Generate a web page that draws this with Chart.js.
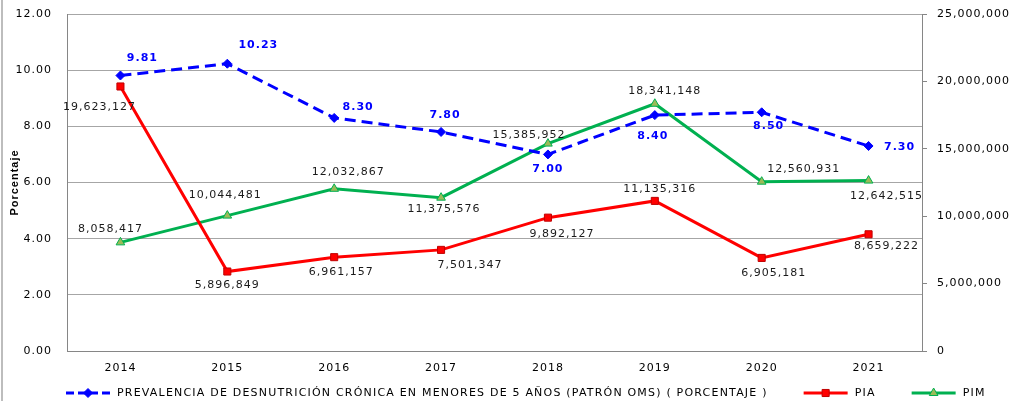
<!DOCTYPE html>
<html>
<head>
<meta charset="utf-8">
<script src="https://cdn.jsdelivr.net/npm/chart.js@4.4.0/dist/chart.umd.min.js"></script>
<style>
  html, body { margin: 0; padding: 0; background: #fff; }
  #wrap { width: 1010px; height: 401px; position: relative; }
</style>
</head>
<body>
<div id="wrap"><canvas id="myChart"></canvas></div>
<script>
const years = ['2014', '2015', '2016', '2017', '2018', '2019', '2020', '2021'];
const prevalencia = [9.81, 10.23, 8.30, 7.80, 7.00, 8.40, 8.50, 7.30];
const pia = [19623127, 5896849, 6961157, 7501347, 9892127, 11135316, 6905181, 8659222];
const pim = [8058417, 10044481, 12032867, 11375576, 15385952, 18341148, 12560931, 12642515];
const seriesNames = [
  'PREVALENCIA DE DESNUTRICIÓN CRÓNICA EN MENORES DE 5 AÑOS (PATRÓN OMS) ( PORCENTAJE )',
  'PIA',
  'PIM'
];
const pctMax = 12, pctStep = 2;
const moneyMax = 25000000, moneyStep = 5000000;

// where each value label sits relative to its point (dx, dy)
const prevLabelPos = [[22,-17],[31,-19],[24,-11],[4,-17],[0,15],[-2,21],[7,14],[31,1]];
const piaLabelPos = [[-21,21],[0,14],[7,15],[29,15],[14,16],[5,-12],[12,15],[18,12]];
const pimLabelPos = [[-10,-13],[-2,-20],[14,-17],[3,11],[-19,-8],[10,-13],[42,-13],[18,16]];

const FONT = "'DejaVu Sans', Verdana, sans-serif";

const textSpacing = {
  id: 'textSpacing',
  beforeDraw(chart) { chart.ctx.letterSpacing = '1px'; },
  afterDraw(chart) { chart.ctx.letterSpacing = '0px'; }
};

const valueLabels = {
  id: 'valueLabels',
  afterDatasetsDraw(chart) {
    const ctx = chart.ctx;
    const positions = [prevLabelPos, piaLabelPos, pimLabelPos];
    ctx.save();
    ctx.textAlign = 'center';
    ctx.textBaseline = 'middle';
    ctx.letterSpacing = '1px';
    chart.data.datasets.forEach((ds, i) => {
      const meta = chart.getDatasetMeta(i);
      meta.data.forEach((pt, j) => {
        const v = ds.data[j];
        let txt;
        if (i === 0) {
          ctx.font = 'bold 11px ' + FONT;
          ctx.fillStyle = '#0000FF';
          txt = v.toFixed(2);
        } else {
          ctx.font = '11px ' + FONT;
          ctx.fillStyle = '#1a1a1a';
          txt = v.toLocaleString('en-US');
        }
        const off = positions[i][j];
        ctx.fillText(txt, pt.x + off[0], pt.y + off[1]);
      });
    });
    ctx.restore();
  }
};

const excelLegend = {
  id: 'excelLegend',
  afterDraw(chart) {
    const ctx = chart.ctx;
    const y = 393;
    let x = 66;
    ctx.save();
    ctx.font = '11px ' + FONT;
    ctx.letterSpacing = '1.2px';
    ctx.textBaseline = 'middle';
    ctx.textAlign = 'left';
    chart.data.datasets.forEach((ds, i) => {
      const symW = 44;
      ctx.save();
      ctx.strokeStyle = ds.borderColor;
      ctx.lineWidth = 3;
      ctx.setLineDash(ds.borderDash ? [8, 4] : []);
      ctx.beginPath();
      ctx.moveTo(x, y);
      ctx.lineTo(x + symW, y);
      ctx.stroke();
      ctx.setLineDash([]);
      ctx.fillStyle = ds.pointBackgroundColor || ds.backgroundColor;
      ctx.strokeStyle = ds.pointBorderColor || ds.borderColor;
      ctx.lineWidth = 1;
      Chart.helpers.drawPoint(ctx, {
        pointStyle: ds.pointStyle,
        radius: ds.pointRadius,
        rotation: 0,
        borderWidth: 1
      }, x + symW / 2, y);
      ctx.restore();
      x += symW + 7;
      ctx.fillStyle = '#000';
      ctx.fillText(ds.label, x, y);
      x += ctx.measureText(ds.label).width + 36;
    });
    ctx.restore();
  }
};

const frameLine = {
  id: 'frameLine',
  afterDraw(chart) {
    const ctx = chart.ctx;
    ctx.save();
    ctx.strokeStyle = '#BDBDBD';
    ctx.lineWidth = 2;
    ctx.beginPath();
    ctx.moveTo(2, 0);
    ctx.lineTo(2, chart.height);
    ctx.stroke();
    ctx.restore();
  }
};

const ctx = document.getElementById('myChart').getContext('2d');
const myChart = new Chart(ctx, {
  type: 'line',
  data: {
    labels: years,
    datasets: [
      {
        label: seriesNames[0],
        data: prevalencia,
        yAxisID: 'yPct',
        borderColor: '#0000FF',
        backgroundColor: '#0000FF',
        borderWidth: 3,
        borderDash: [11, 6],
        pointStyle: 'rectRot',
        pointRadius: 4.5,
        pointBorderWidth: 1,
        tension: 0
      },
      {
        label: seriesNames[1],
        data: pia,
        yAxisID: 'yMoney',
        borderColor: '#FF0000',
        backgroundColor: '#FF0000',
        pointBackgroundColor: '#FF0000',
        pointBorderColor: '#C00000',
        borderWidth: 3,
        pointStyle: 'rect',
        pointRadius: 5,
        pointBorderWidth: 1,
        tension: 0
      },
      {
        label: seriesNames[2],
        data: pim,
        yAxisID: 'yMoney',
        borderColor: '#00B050',
        backgroundColor: '#9BBB59',
        pointBackgroundColor: '#9BBB59',
        pointBorderColor: '#00B050',
        borderWidth: 3,
        pointStyle: 'triangle',
        pointRadius: 5,
        pointBorderWidth: 1,
        tension: 0
      }
    ]
  },
  options: {
    responsive: true,
    maintainAspectRatio: false,
    animation: false,
    layout: { padding: { top: 14, bottom: 24, left: 0, right: 0 } },
    plugins: {
      legend: { display: false },
      tooltip: { enabled: false }
    },
    scales: {
      x: {
        offset: true,
        grid: { display: false },
        border: { color: '#868686', width: 1 },
        ticks: { color: '#000', font: { family: FONT, size: 11 }, padding: 3, maxRotation: 0 },
        afterFit: s => { s.height = 26; }
      },
      yPct: {
        position: 'left',
        min: 0,
        max: pctMax,
        ticks: {
          stepSize: pctStep,
          callback: v => v.toFixed(2),
          padding: 15,
          color: '#000',
          font: { family: FONT, size: 11 }
        },
        grid: { color: '#A6A6A6', drawTicks: false },
        border: { color: '#868686' },
        title: {
          display: true,
          text: 'Porcentaje',
          color: '#000',
          font: { family: "'Liberation Sans Narrow', 'Liberation Sans', sans-serif", weight: 'bold', size: 11 },
          padding: { top: 8, bottom: 0 }
        },
        afterFit: s => { s.width = 67; s.paddingTop = 0; s.paddingBottom = 0; }
      },
      yMoney: {
        position: 'right',
        min: 0,
        max: moneyMax,
        ticks: {
          stepSize: moneyStep,
          callback: v => v.toLocaleString('en-US'),
          padding: 10,
          color: '#000',
          font: { family: FONT, size: 11 }
        },
        grid: { drawOnChartArea: false, tickLength: 5, color: '#868686' },
        border: { color: '#868686' },
        afterFit: s => { s.width = 88; s.paddingTop = 0; s.paddingBottom = 0; }
      }
    }
  },
  plugins: [textSpacing, valueLabels, excelLegend, frameLine]
});
</script>
</body>
</html>
